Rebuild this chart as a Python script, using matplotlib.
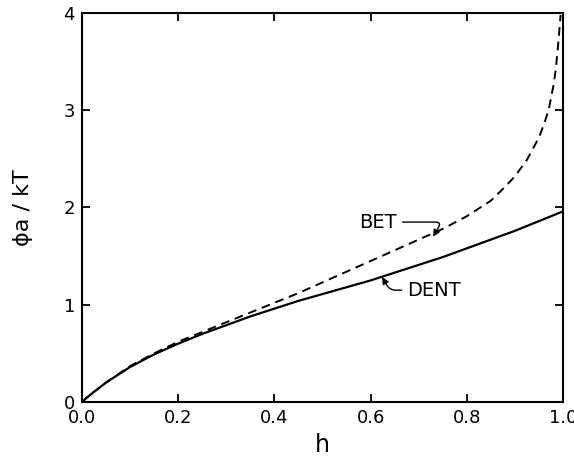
import matplotlib
matplotlib.use("Agg")
import matplotlib.pyplot as plt

# Data
h_dent = [0.0, 0.01, 0.02, 0.05, 0.10, 0.15, 0.20, 0.25, 0.30, 0.35, 0.40, 0.45, 0.50, 0.55, 0.60, 0.65,
          0.70, 0.75, 0.80, 0.85, 0.90, 0.95, 1.00]
phi_dent = [0.0, 0.045, 0.085, 0.20, 0.36, 0.49, 0.60, 0.70, 0.79, 0.88, 0.96, 1.04, 1.11, 1.18, 1.25, 1.33,
            1.41, 1.49, 1.58, 1.67, 1.76, 1.86, 1.96]

h_bet = [0.0, 0.01, 0.02, 0.05, 0.10, 0.15, 0.20, 0.25, 0.30, 0.35, 0.40, 0.45, 0.50, 0.55, 0.60, 0.65,
         0.70, 0.75, 0.80, 0.85, 0.875, 0.90, 0.925, 0.95, 0.96, 0.97, 0.98, 0.985, 0.99, 0.995]
phi_bet = [0.0, 0.045, 0.085, 0.20, 0.37, 0.50, 0.62, 0.72, 0.82, 0.92, 1.02, 1.12, 1.23, 1.34, 1.45, 1.56,
           1.67, 1.78, 1.91, 2.07, 2.19, 2.32, 2.49, 2.72, 2.85, 3.00, 3.25, 3.42, 3.68, 3.98]

xticks = [0.0, 0.2, 0.4, 0.6, 0.8, 1.0]
xticklabels = ["0.0", "0.2", "0.4", "0.6", "0.8", "1.0"]
yticks = [0, 1, 2, 3, 4]
yticklabels = ["0", "1", "2", "3", "4"]

plt.rcParams['font.family'] = ['DejaVu Sans']

fig = plt.figure(figsize=(5.74, 4.65), dpi=100)
ax = fig.add_axes([82/574, 1-402/465, (563-82)/574, (402-13)/465])

ax.plot(h_dent, phi_dent, color='black', lw=1.6, solid_capstyle='butt', solid_joinstyle='round')
ax.plot(h_bet, phi_bet, color='black', lw=1.4, linestyle=(0, (4.5, 3.0)))

ax.set_xlim(0, 1.0)
ax.set_ylim(0, 4)
ax.set_xticks(xticks)
ax.set_xticklabels(xticklabels)
ax.set_yticks(yticks)
ax.set_yticklabels(yticklabels)

ax.tick_params(direction='in', length=6, width=1.3, top=True, right=True,
               labelsize=13, pad=5)
for s in ax.spines.values():
    s.set_linewidth(1.5)

ax.set_xlabel("h", fontsize=17, labelpad=4)
ax.set_ylabel("ϕa / kT", fontsize=16, labelpad=22)

ax.annotate("BET", xy=(0.730, 1.70), xytext=(0.655, 1.85),
            ha='right', va='center', fontsize=14,
            arrowprops=dict(arrowstyle='-|>', color='black', lw=1.0,
                            shrinkA=2, shrinkB=0, mutation_scale=10,
                            connectionstyle="angle,angleA=0,angleB=60,rad=6"))
ax.annotate("DENT", xy=(0.624, 1.285), xytext=(0.676, 1.15),
            ha='left', va='center', fontsize=14,
            arrowprops=dict(arrowstyle='-|>', color='black', lw=1.0,
                            shrinkA=2, shrinkB=0, mutation_scale=10,
                            connectionstyle="angle,angleA=180,angleB=-60,rad=6"))

fig.savefig("out.png", dpi=100)
